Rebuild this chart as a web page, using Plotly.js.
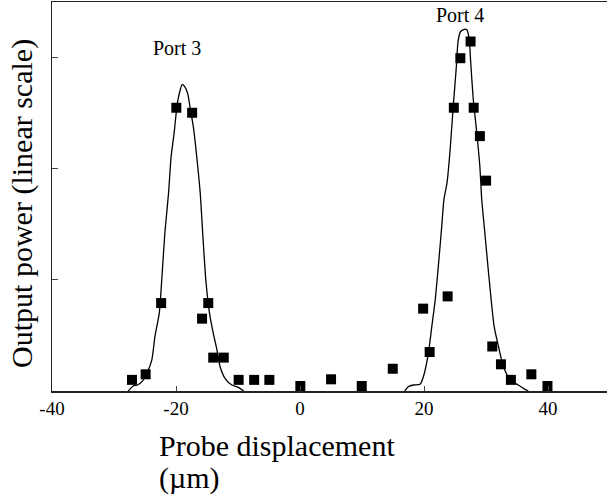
<!DOCTYPE html>
<html>
<head>
<meta charset="utf-8">
<script src="https://cdn.plot.ly/plotly-3.0.1.min.js"></script>
<style>html,body{margin:0;padding:0;background:#fff;}#chart{width:607px;height:502px;}</style>
</head>
<body>
<div id="chart"></div>
<script>
// Measured points (squares)
const measX = [-27.1, -24.9, -22.4, -19.95, -17.4, -15.8, -14.8, -14.0, -12.3, -9.9, -7.4, -4.95, 0.05, 5.0, 9.95, 14.95, 19.85, 20.9, 23.8, 24.8, 25.85, 27.5, 28.0, 29.0, 30.0, 31.0, 32.4, 34.0, 37.3, 39.9];
const measY = [0.10, 0.15, 0.79, 2.545, 2.50, 0.65, 0.79, 0.30, 0.30, 0.10, 0.10, 0.10, 0.045, 0.105, 0.045, 0.20, 0.74, 0.35, 0.85, 2.545, 2.99, 3.14, 2.545, 2.29, 1.89, 0.40, 0.24, 0.10, 0.15, 0.045];

// Simulated curve around Port 3
const port3X = [-27.7, -26.9, -26.2, -25.5, -24.7, -23.9, -23.4, -22.7, -22.3, -21.8, -21.2, -20.8, -20.3, -19.8, -19.35, -19.0, -18.55, -18.1, -17.75, -17.2, -16.65, -16.1, -15.7, -15.2, -14.6, -14.0, -13.4, -12.9, -12.1, -11.0, -9.95, -9.1];
const port3Y = [0, 0.045, 0.054, 0.084, 0.16, 0.28, 0.49, 0.70, 1.0, 1.42, 1.78, 2.10, 2.32, 2.58, 2.70, 2.755, 2.73, 2.67, 2.555, 2.37, 2.10, 1.78, 1.42, 1.0, 0.70, 0.52, 0.37, 0.22, 0.114, 0.054, 0.033, 0];

// Simulated curve around Port 4
const port4X = [16.9, 17.5, 18.3, 19.35, 19.9, 20.7, 21.25, 21.8, 22.3, 22.85, 23.2, 23.7, 24.2, 24.7, 25.2, 25.5, 25.9, 26.5, 26.9, 27.3, 27.5, 27.95, 28.5, 29.0, 29.3, 29.8, 30.4, 31.3, 32.0, 32.8, 33.9, 35.2, 36.0, 36.8];
const port4Y = [0, 0.04, 0.054, 0.06, 0.13, 0.34, 0.58, 0.82, 1.12, 1.48, 1.72, 1.87, 2.165, 2.555, 2.91, 3.15, 3.23, 3.25, 3.245, 3.15, 2.97, 2.61, 2.32, 2.015, 1.72, 1.42, 1.06, 0.58, 0.40, 0.22, 0.10, 0.054, 0.024, 0];

const xTickVals = [-40, -20, 0, 20, 40];
const xTickText = ["-40", "-20", "0", "20", "40"];
const yTickVals = [1, 2, 3];

const serif = "'Liberation Serif'";

const lineStyle = {color: "#000", width: 1.3, shape: "spline", smoothing: 0.6};

const traces = [
  {x: port3X, y: port3Y, mode: "lines", line: lineStyle, hoverinfo: "skip", showlegend: false},
  {x: port4X, y: port4Y, mode: "lines", line: lineStyle, hoverinfo: "skip", showlegend: false},
  {x: measX, y: measY, mode: "markers", marker: {symbol: "square", size: 10, color: "#000"}, showlegend: false}
];

const layout = {
  width: 607, height: 502,
  margin: {l: 52, r: 0, t: 2, b: 111, pad: 0},
  paper_bgcolor: "#fff", plot_bgcolor: "#fff",
  font: {family: serif, color: "#000"},
  xaxis: {
    range: [-40, 49.5], showgrid: false, zeroline: false,
    showline: true, linecolor: "#222", linewidth: 1.5, mirror: true,
    ticks: "inside", ticklen: 5, tickcolor: "#444", tickwidth: 1,
    tickmode: "array", tickvals: xTickVals, ticktext: xTickText,
    tickfont: {family: serif, size: 19, color: "#000"}
  },
  yaxis: {
    range: [0, 3.495], showgrid: false, zeroline: false,
    showline: true, linecolor: "#222", linewidth: 1.5,
    ticks: "inside", ticklen: 6, tickcolor: "#444", tickwidth: 1,
    tickmode: "array", tickvals: yTickVals, showticklabels: false
  },
  annotations: [
    {text: "Port 3", xref: "x", yref: "y", x: -19.8, y: 3.08, showarrow: false, font: {family: serif, size: 20, color: "#000"}},
    {text: "Port 4", xref: "x", yref: "y", x: 25.8, y: 3.38, showarrow: false, font: {family: serif, size: 20, color: "#000"}},
    {text: "Probe displacement", xref: "paper", yref: "paper", x: 0.189, y: -0.141, xanchor: "left", yanchor: "middle", showarrow: false, font: {family: serif, size: 30, color: "#000"}},
    {text: "(µm)", xref: "paper", yref: "paper", x: 0.189, y: -0.224, xanchor: "left", yanchor: "middle", showarrow: false, font: {family: serif, size: 30, color: "#000"}},
    {text: "Output power (linear scale)", xref: "paper", yref: "paper", x: 0, xshift: -30, y: 0.481, xanchor: "center", yanchor: "middle", textangle: -90, showarrow: false, font: {family: serif, size: 30, color: "#000"}}
  ]
};

Plotly.newPlot("chart", traces, layout, {displayModeBar: false, staticPlot: true});
</script>
</body>
</html>
